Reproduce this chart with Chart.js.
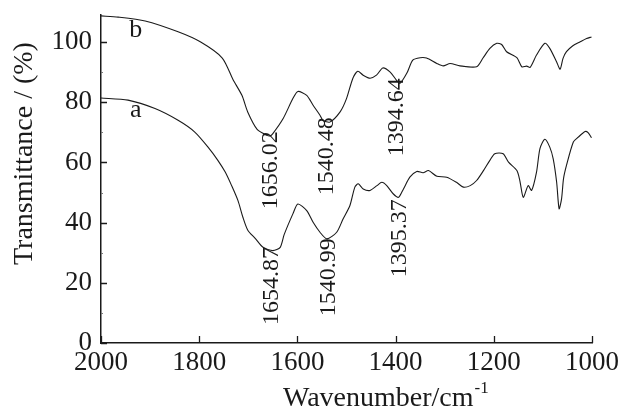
<!DOCTYPE html>
<html>
<head>
<meta charset="utf-8">
<script src="https://cdn.jsdelivr.net/npm/chart.js@4/dist/chart.umd.min.js"></script>
<style>
  html, body { margin: 0; padding: 0; background: #fff; }
  #wrap { width: 624px; height: 412px; position: relative; }
</style>
</head>
<body>
<div id="wrap"><canvas id="c"></canvas></div>
<script>
// ---- data ----
const waveA = [2000,1945,1890,1843,1809,1782,1762,1747,1734,1721,1711,1701,1686,1670,1650,1635,1627,1609,1599,1581,1568,1554,1540,1520,1507,1493,1483,1476,1466,1452,1438,1428,1418,1405,1394,1384,1371,1357,1344,1333,1316,1296,1276,1262,1248,1235,1221,1208,1198,1181,1170,1153,1147,1140,1130,1123,1113,1106,1096,1086,1079,1072,1067,1062,1058,1052,1038,1028,1014,1008,1001];
const transA = [81.4,80.7,77.9,74,70.1,65.1,60.7,56.8,52.3,47.3,41.8,37.5,34.8,31.8,30.7,31.8,36,43,46.2,44,40.1,36.8,34.6,36.8,41.2,45.7,51.8,52.9,51.2,50.7,52.3,53.4,52.3,49.6,48.4,51.2,55.1,57,56.6,57.3,55.4,55.1,53.4,51.8,52.3,54,57.3,60.7,62.9,62.9,60.1,57.3,54,48.4,52.3,50.7,56.8,64.6,67.7,65.1,61.2,53.4,44.6,47.9,54.6,59,66.8,68.4,70.3,69.9,68.2];

const waveB = [2000,1965,1910,1843,1797,1753,1731,1713,1701,1682,1662,1656,1650,1629,1609,1599,1581,1568,1554,1548,1534,1513,1500,1487,1477,1466,1452,1439,1426,1411,1398,1391,1377,1365,1350,1337,1316,1303,1289,1269,1235,1222,1208,1194,1184,1174,1153,1143,1133,1126,1113,1096,1086,1072,1065,1059,1052,1039,1024,1011,1001];
const transB = [108.7,108.3,107,103.4,100,94.7,87.5,82.3,76.7,71,69,68.8,69.6,74.6,81.3,83.6,82.3,79,75.7,74,73.4,76.8,81.2,88,90.3,89,88,89,91.4,90,87.3,86.3,89.7,94,94.8,94.7,92.9,92.1,92.9,92.1,91.8,94.7,97.9,99.6,99.2,96.8,94.8,91.8,92,91.6,95.7,99.6,97.9,93.4,91,94.6,96.8,98.8,100.1,101.2,101.7];

const xTickValues = [2000, 1800, 1600, 1400, 1200, 1000];
const yTickValues = [0, 20, 40, 60, 80, 100];
const yMinorTickValues = [10, 30, 50, 70, 90];

// peak annotations: text, wavenumber anchor, transmittance where the text ends (top)
const peakTexts = ['1656.02', '1540.48', '1394.64', '1654.87', '1540.99', '1395.37'];
const peakWaves = [1658, 1544, 1401, 1656, 1540, 1395];
const peakTops  = [70.4, 75, 88, 31.9, 34.8, 47.8];

// curve names
const curveNames = ['a', 'b'];
const curveNameWaves = [1929, 1929];
const curveNameVals = [75, 101.6];

const xTitle = 'Wavenumber/cm';
const xTitleSup = '-1';
const yTitle = 'Transmittance / (%)';

// ---- chart ----
const SERIF = "'Liberation Serif', 'Times New Roman', serif";
const INK = '#1a1a1a';

const toPts = (xs, ys) => xs.map((x, i) => ({ x: x, y: ys[i] }));

const decor = {
  id: 'decor',
  afterDraw(chart) {
    const ctx = chart.ctx;
    const xs = chart.scales.x, ys = chart.scales.y;
    const area = chart.chartArea;
    ctx.save();
    ctx.strokeStyle = INK;
    ctx.lineWidth = 1.3;
    // inward major ticks
    ctx.beginPath();
    yTickValues.forEach(v => {
      const y = Math.round(ys.getPixelForValue(v)) + 0.5;
      ctx.moveTo(area.left, y); ctx.lineTo(area.left + 6, y);
    });
    xTickValues.forEach(v => {
      const x = Math.round(xs.getPixelForValue(v)) + 0.5;
      ctx.moveTo(x, area.bottom); ctx.lineTo(x, area.bottom - 7);
    });
    ctx.stroke();
    ctx.lineWidth = 1;
    ctx.strokeStyle = '#777';
    ctx.beginPath();
    yMinorTickValues.forEach(v => {
      const y = Math.round(ys.getPixelForValue(v)) + 0.5;
      ctx.moveTo(area.left, y); ctx.lineTo(area.left + 2, y);
    });
    ctx.stroke();

    ctx.fillStyle = INK;
    // peak labels (rotated)
    ctx.font = '24px ' + SERIF;
    peakTexts.forEach((t, i) => {
      const cx = xs.getPixelForValue(peakWaves[i]);
      const top = ys.getPixelForValue(peakTops[i]);
      ctx.save();
      ctx.translate(cx + 8, top);
      ctx.rotate(-Math.PI / 2);
      ctx.textAlign = 'right';
      ctx.textBaseline = 'alphabetic';
      ctx.fillText(t, 0, 0);
      ctx.restore();
    });
    // curve names
    ctx.font = '26px ' + SERIF;
    ctx.textAlign = 'center';
    ctx.textBaseline = 'alphabetic';
    curveNames.forEach((n, i) => {
      ctx.fillText(n, xs.getPixelForValue(curveNameWaves[i]), ys.getPixelForValue(curveNameVals[i]));
    });
    // x title with superscript
    ctx.font = '28px ' + SERIF;
    ctx.textAlign = 'left';
    const w = ctx.measureText(xTitle).width;
    const tx = 283;
    ctx.fillText(xTitle, tx, 406);
    ctx.font = '17px ' + SERIF;
    ctx.fillText(xTitleSup, tx + w + 1, 393);
    // y title rotated
    ctx.font = '28px ' + SERIF;
    ctx.save();
    ctx.translate(32, 265);
    ctx.rotate(-Math.PI / 2);
    ctx.textAlign = 'left';
    ctx.fillText(yTitle, 0, 0);
    ctx.restore();
    ctx.restore();
  }
};

new Chart(document.getElementById('c'), {
  type: 'line',
  data: {
    datasets: [
      { label: 'a', data: toPts(waveA, transA), borderColor: INK, borderWidth: 1.1, pointRadius: 0, tension: 0.25, fill: false },
      { label: 'b', data: toPts(waveB, transB), borderColor: INK, borderWidth: 1.1, pointRadius: 0, tension: 0.25, fill: false }
    ]
  },
  options: {
    responsive: true,
    maintainAspectRatio: false,
    animation: false,
    layout: { padding: { top: 15, right: 32, left: 0, bottom: 0 } },
    plugins: { legend: { display: false }, tooltip: { enabled: false } },
    scales: {
      x: {
        type: 'linear',
        reverse: true,
        min: 1000,
        max: 2000,
        afterBuildTicks: s => { s.ticks = xTickValues.map(v => ({ value: v })); },
        afterFit: s => { s.height = 69; s.paddingLeft = 0; s.paddingRight = 0; },
        grid: { display: false, drawTicks: false },
        border: { display: true, color: INK, width: 1.5 },
        ticks: { color: INK, font: { family: SERIF, size: 27 }, padding: 4, maxRotation: 0, autoSkip: false, callback: v => String(v) }
      },
      y: {
        type: 'linear',
        min: 0,
        max: 109,
        afterBuildTicks: s => { s.ticks = yTickValues.map(v => ({ value: v })); },
        afterFit: s => { s.width = 101; s.paddingTop = 0; s.paddingBottom = 0; },
        grid: { display: false, drawTicks: false },
        border: { display: true, color: INK, width: 1.5 },
        ticks: { color: INK, font: { family: SERIF, size: 27 }, padding: 9, autoSkip: false, callback: v => String(v) }
      }
    }
  },
  plugins: [decor]
});
</script>
</body>
</html>
